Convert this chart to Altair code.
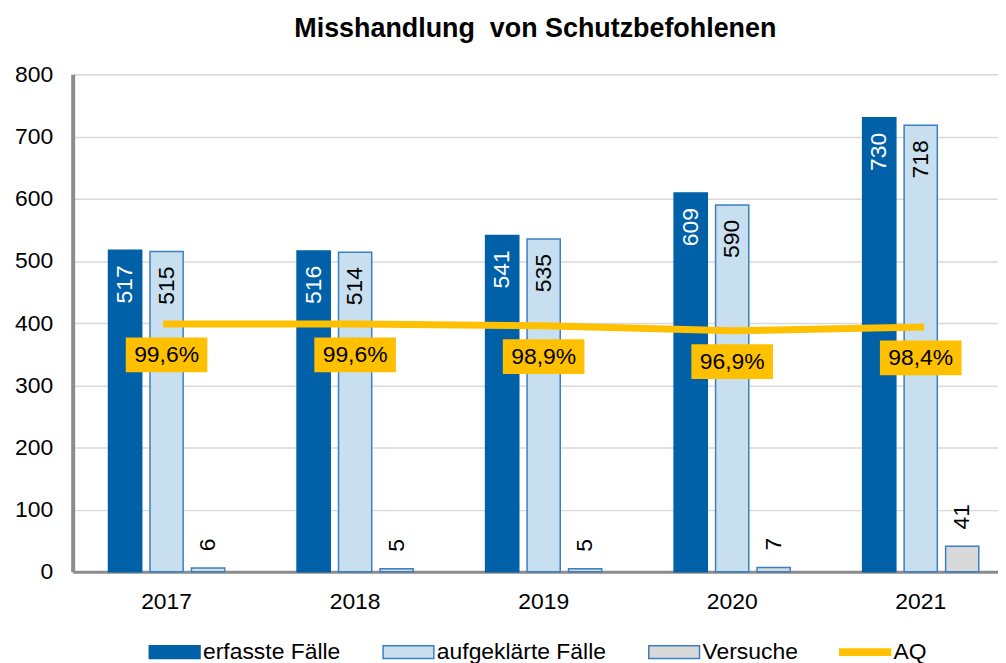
import altair as alt
import pandas as pd

# ---- data ----
years = ["2017", "2018", "2019", "2020", "2021"]
erfasst = [517, 516, 541, 609, 730]
aufgeklaert = [515, 514, 535, 590, 718]
versuche = [6, 5, 5, 7, 41]
aq = [99.6, 99.6, 98.9, 96.9, 98.4]
aq_labels = ["99,6%", "99,6%", "98,9%", "96,9%", "98,4%"]
series = ["erfasste Fälle", "aufgeklärte Fälle", "Versuche"]
legend_items = series + ["AQ"]
y_ticks = [0, 100, 200, 300, 400, 500, 600, 700, 800]

# ---- styles ----
fills = ["#0061A8", "#C7DFEF", "#D9D9D9", "#FFC000"]
strokes = ["#0061A8", "#3A80C3", "#3A80C3", "#FFC000"]
RECT = "M-1,-0.25L1,-0.25L1,0.25L-1,0.25Z"
THIN = "M-1,-0.12L1,-0.12L1,0.12L-1,0.12Z"
BOX = "M-1,-0.427L1,-0.427L1,0.427L-1,0.427Z"
FONT = "Liberation Sans"

rows = []
for i, yr in enumerate(years):
    for s, vals in zip(series, [erfasst, aufgeklaert, versuche]):
        rows.append({"Jahr": yr, "Serie": s, "Wert": vals[i]})
bars_df = pd.DataFrame(rows)
aq_df = pd.DataFrame({"Jahr": years, "AQ": aq, "Label": aq_labels})
legend_df = pd.DataFrame({"Serie": legend_items})

xscale = alt.Scale(domain=years, paddingInner=0.384, paddingOuter=0.146, align=0.651)
xaxis = alt.Axis(title=None, labelFontSize=23, labelAngle=0, ticks=False, labelPadding=19,
                 domainColor="#8C8C8C", domainWidth=3, grid=False, labelColor="#000000",
                 labelFont=FONT)
xenc = alt.X("Jahr:N", scale=xscale, axis=xaxis)
xoff = alt.XOffset("Serie:N", scale=alt.Scale(domain=series, paddingInner=0.2, paddingOuter=0))

yaxis = alt.Axis(title=None, values=y_ticks, labelFontSize=23, ticks=False, labelPadding=20,
                 domainColor="#8C8C8C", domainWidth=4, grid=True, gridColor="#D9D9D9",
                 gridWidth=1.5, labelColor="#000000", labelFont=FONT)
yenc = alt.Y("Wert:Q", scale=alt.Scale(domain=[0, 800], nice=False), axis=yaxis)

leg = alt.Legend(title=None, orient="none", legendX=76, legendY=554, direction="horizontal",
                 symbolSize=2601, symbolStrokeWidth=1.5, labelFontSize=23, labelFont=FONT,
                 labelOffset=2, columnPadding=39, padding=0, symbolOpacity=1,
                 labelColor="#000000", labelLimit=400)
color = alt.Color("Serie:N", scale=alt.Scale(domain=legend_items, range=fills), legend=leg)
stroke = alt.Stroke("Serie:N", scale=alt.Scale(domain=legend_items, range=strokes), legend=leg)
shape = alt.Shape("Serie:N", scale=alt.Scale(domain=legend_items, range=[RECT, RECT, RECT, THIN]),
                  legend=leg)

bars = alt.Chart(bars_df).mark_bar(strokeWidth=1.5).encode(
    x=xenc, xOffset=xoff, y=yenc, color=color, stroke=stroke)

lab_in_white = alt.Chart(bars_df).transform_filter(alt.datum.Serie == "erfasste Fälle").mark_text(
    angle=270, align="right", baseline="middle", dx=-15, fontSize=23, color="#FFFFFF", font=FONT
).encode(x=xenc, xOffset=xoff, y=yenc, text="Wert:Q")
lab_in_black = alt.Chart(bars_df).transform_filter(alt.datum.Serie == "aufgeklärte Fälle").mark_text(
    angle=270, align="right", baseline="middle", dx=-15, fontSize=23, color="#000000", font=FONT
).encode(x=xenc, xOffset=xoff, y=yenc, text="Wert:Q")
lab_out = alt.Chart(bars_df).transform_filter(alt.datum.Serie == "Versuche").mark_text(
    angle=270, align="left", baseline="middle", dx=17, fontSize=23, color="#000000", font=FONT
).encode(x=xenc, xOffset=xoff, y=yenc, text="Wert:Q")

dummy = alt.Chart(legend_df).mark_point(filled=True, size=0).encode(
    x=alt.value(0), y=alt.value(0), color=color, stroke=stroke, shape=shape)

left = alt.layer(bars, lab_in_white, lab_in_black, lab_out, dummy)

yaq = alt.Y("AQ:Q", scale=alt.Scale(domain=[0, 200], nice=False), axis=None)
line = alt.Chart(aq_df).mark_line(color="#FFC000", strokeWidth=7, strokeCap="square").encode(
    x=xenc, y=yaq)
boxes = alt.Chart(aq_df).mark_point(shape=BOX, size=6724, filled=True, color="#FFC000",
                                    opacity=1, yOffset=31).encode(x=xenc, y=yaq)
aq_text = alt.Chart(aq_df).mark_text(fontSize=23, yOffset=31, color="#000000", baseline="middle",
                                     font=FONT).encode(x=xenc, y=yaq, text="Label:N")
right = alt.layer(line, boxes, aq_text)

chart = alt.layer(left, right).resolve_scale(y="independent").properties(
    width=930, height=500,
    title=alt.Title("Misshandlung\u00a0 von Schutzbefohlenen", fontSize=27, fontWeight="bold",
                    anchor="middle", offset=21, color="#000000", font=FONT),
    padding={"left": 6, "top": 5, "right": 0, "bottom": 0},
).configure_view(stroke=None).configure(font=FONT)

chart.save("out.html", embed_options={"renderer": "svg", "actions": False})
